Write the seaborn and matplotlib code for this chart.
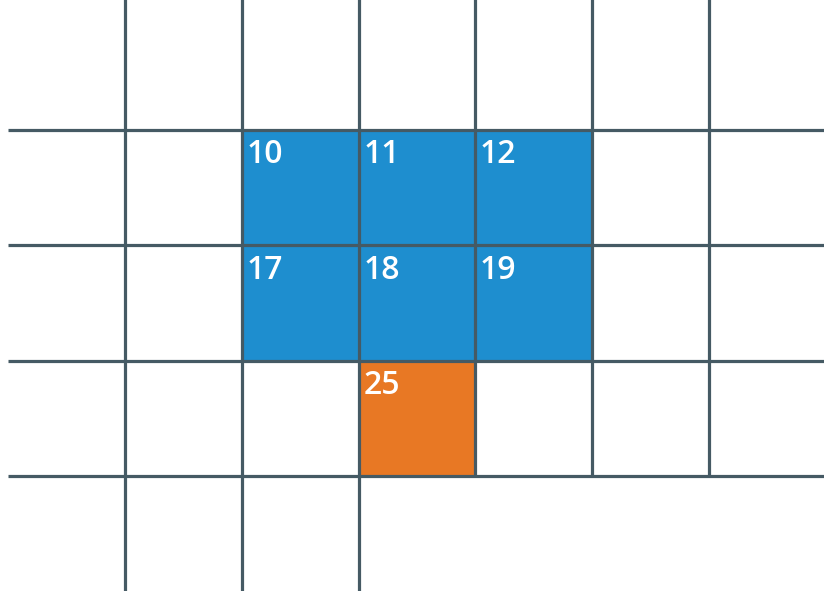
import matplotlib
matplotlib.use('Agg')
import matplotlib.pyplot as plt
from matplotlib.colors import ListedColormap
import seaborn as sns
import numpy as np

# grid of numbered cells (row-major, 7 columns, numbered from 1)
n_rows, n_cols = 5, 7
blue_cells = [10, 11, 12, 17, 18, 19]
orange_cells = [25]

# grid lines in cell units: (position, start, end)
h_lines = [(1, 0, 7), (2, 0, 7), (3, 0, 7), (4, 0, 7)]
v_lines = [(1, -0.2, 5.2), (2, -0.2, 5.2), (3, -0.2, 5.2),
           (4, -0.2, 4), (5, -0.2, 4), (6, -0.2, 4)]

blue = '#1E8ECF'
orange = '#E87824'
line_col = '#455A64'

grid = np.full((n_rows, n_cols), np.nan)
for c in blue_cells:
    grid[(c - 1) // n_cols, (c - 1) % n_cols] = 0
for c in orange_cells:
    grid[(c - 1) // n_cols, (c - 1) % n_cols] = 1

sns.set_style('white')
fig = plt.figure(figsize=(8.24, 5.91), dpi=100)
ax = fig.add_axes([0, 0, 1, 1])
sns.heatmap(grid, cmap=ListedColormap([blue, orange]), vmin=0, vmax=1,
            cbar=False, ax=ax, linewidths=0)

for y, x0, x1 in h_lines:
    ax.plot([x0, x1], [y, y], color=line_col, lw=2.3, solid_capstyle='butt')
for x, y0, y1 in v_lines:
    ax.plot([x, x], [y0, y1], color=line_col, lw=2.3, solid_capstyle='butt')

for c in blue_cells + orange_cells:
    r, k = (c - 1) // n_cols, (c - 1) % n_cols
    ax.text(k + 0.04, r + 0.29, str(c), color='white', fontsize=23,
            family='Open Sans', weight='semibold', ha='left', va='baseline')

ax.set_xlim(-0.07, 6.985)
ax.set_ylim(4.998, -0.1275)
ax.axis('off')
fig.savefig('out.png', dpi=100, facecolor='white')
